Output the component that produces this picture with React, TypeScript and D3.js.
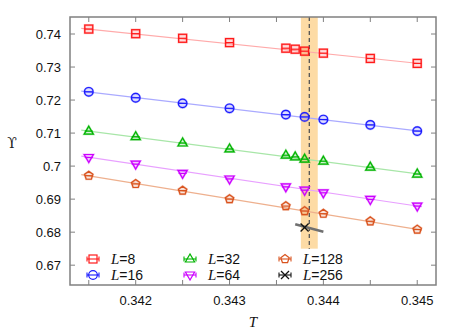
import React from "react";
import * as d3 from "d3";

const T_all = [0.3415, 0.342, 0.3425, 0.343, 0.3436, 0.3437, 0.3438, 0.344, 0.3445, 0.345];
const T_std = [0.3415, 0.342, 0.3425, 0.343, 0.3436, 0.3438, 0.344, 0.3445, 0.345];

const L8 = [0.7415, 0.7401, 0.7387, 0.7374, 0.7357, 0.7354, 0.7348, 0.7342, 0.7326, 0.7311];
const L16 = [0.7225, 0.7207, 0.719, 0.7175, 0.7156, 0.7149, 0.7141, 0.7125, 0.7106];
const L32 = [0.7106, 0.7089, 0.707, 0.7052, 0.7033, 0.7028, 0.7021, 0.7015, 0.6997, 0.6976];
const L64 = [0.7026, 0.7006, 0.6978, 0.6961, 0.6937, 0.6927, 0.6919, 0.6899, 0.6879];
const L128 = [0.6971, 0.6946, 0.6926, 0.69, 0.6879, 0.6864, 0.6856, 0.6833, 0.6808];
const T256 = [0.3438];
const L256 = [0.6814];

// fit lines: [T0, T1], [v0, v1]
const fitT = [0.34142, 0.34505];
const fit8 = [0.7417, 0.7310];
const fit16 = [0.7227, 0.7105];
const fit32 = [0.7109, 0.6975];
const fit64 = [0.7030, 0.6877];
const fit128 = [0.6974, 0.6806];
const fit256T = [0.3437, 0.3440];
const fit256 = [0.6824, 0.6801];

const xTicks = [0.3415, 0.342, 0.3425, 0.343, 0.3435, 0.344, 0.3445, 0.345];
const xLabels = [0.342, 0.343, 0.344, 0.345];
const yTicks = [0.67, 0.68, 0.69, 0.7, 0.71, 0.72, 0.73, 0.74];

const bandT = [0.34376, 0.34394];
const bandCenter = 0.34385;
const bandBottom = 0.675;

type S = { name: string; T: number[]; v: number[]; fit: number[]; fitT: number[]; color: string; line: string; shape: string };

const series: S[] = [
  { name: "8", T: T_all, v: L8, fit: fit8, fitT, color: "#ff1a1a", line: "#ffaaaa", shape: "square" },
  { name: "16", T: T_std, v: L16, fit: fit16, fitT, color: "#1a1aff", line: "#aaaaff", shape: "circle" },
  { name: "32", T: T_all, v: L32, fit: fit32, fitT, color: "#00b400", line: "#a8e6a8", shape: "tri" },
  { name: "64", T: T_std, v: L64, fit: fit64, fitT, color: "#cc00ff", line: "#e8a0ff", shape: "itri" },
  { name: "128", T: T_std, v: L128, fit: fit128, fitT, color: "#d9531e", line: "#eeb08e", shape: "pent" },
  { name: "256", T: T256, v: L256, fit: fit256, fitT: fit256T, color: "#111111", line: "#707070", shape: "cross" },
];

const W = 463, H = 334;
const m = { l: 70, r: 436, t: 17, b: 285 };
const x = d3.scaleLinear().domain([0.34130, 0.34520]).range([m.l, m.r]);
const y = d3.scaleLinear().domain([0.6640, 0.74515]).range([m.b, m.t]);

function Marker({ shape, cx, cy, color, legend }: { shape: string; cx: number; cy: number; color: string; legend?: boolean }) {
  const s = 4;
  const common = { fill: "none", stroke: color, strokeWidth: 1.2 };
  const pale = { fill: color, fillOpacity: 0.15, stroke: color, strokeOpacity: 0.3, strokeWidth: 2.2 };
  let el: React.ReactNode = null;
  let paleEl: React.ReactNode = null;
  if (shape === "square") {
    el = <rect x={cx - s} y={cy - s} width={2 * s} height={2 * s} {...common} />;
    paleEl = <rect x={cx - s} y={cy - s} width={2 * s} height={2 * s} {...pale} />;
  } else if (shape === "circle") {
    el = <circle cx={cx} cy={cy} r={s + 0.3} {...common} />;
    paleEl = <circle cx={cx} cy={cy} r={s + 0.3} {...pale} />;
  } else if (shape === "tri") {
    const p = `${cx},${cy - s - 1} ${cx - s - 0.6},${cy + s - 1} ${cx + s + 0.6},${cy + s - 1}`;
    el = <polygon points={p} {...common} />;
    paleEl = <polygon points={p} {...pale} />;
  } else if (shape === "itri") {
    const p = `${cx},${cy + s + 1} ${cx - s - 0.6},${cy - s + 1} ${cx + s + 0.6},${cy - s + 1}`;
    el = <polygon points={p} {...common} />;
    paleEl = <polygon points={p} {...pale} />;
  } else if (shape === "pent") {
    const pts = d3.range(5).map((i) => {
      const a = -Math.PI / 2 + (i * 2 * Math.PI) / 5;
      return `${cx + (s + 0.4) * Math.cos(a)},${cy + (s + 0.4) * Math.sin(a)}`;
    }).join(" ");
    el = <polygon points={pts} {...common} />;
    paleEl = <polygon points={pts} {...pale} />;
  } else if (shape === "cross") {
    el = (
      <g stroke={color} strokeWidth={1.3}>
        <line x1={cx - s} y1={cy - s} x2={cx + s} y2={cy + s} />
        <line x1={cx - s} y1={cy + s} x2={cx + s} y2={cy - s} />
      </g>
    );
  }
  return (
    <g>
      {!legend && paleEl}
      {el}
      {legend ? (
        <g stroke={color} strokeWidth={1.1}>
          <line x1={cx - 6} x2={cx + 6} y1={cy} y2={cy} />
          <line x1={cx - 6} x2={cx - 6} y1={cy - 2.5} y2={cy + 2.5} />
          <line x1={cx + 6} x2={cx + 6} y1={cy - 2.5} y2={cy + 2.5} />
        </g>
      ) : (
        shape !== "cross" && <line x1={cx - s} x2={cx + s} y1={cy} y2={cy} stroke={color} strokeWidth={1.2} />
      )}
    </g>
  );
}

export default function App() {
  const legendPos = [
    [93, 259], [93, 275], [190, 259], [190, 275], [285, 259], [285, 275],
  ];
  const axisColor = "#808080";
  const font = "'Liberation Sans', Arial, sans-serif";
  const serif = "'Liberation Serif', 'Times New Roman', serif";
  return (
    <svg width={W} height={H} style={{ position: "absolute", left: 0, top: 0 }}>
      <rect width={W} height={H} fill="#fff" />
      {/* band */}
      <rect x={x(bandT[0])} y={m.t} width={x(bandT[1]) - x(bandT[0])} height={y(bandBottom) - m.t} fill="#fdd595" fillOpacity={0.85} />
      <line x1={x(bandCenter)} x2={x(bandCenter)} y1={m.t} y2={y(bandBottom)} stroke="#555" strokeWidth={1.3} strokeDasharray="4,3" />
      {/* fit lines */}
      {series.map((s) => (
        <line key={"f" + s.name} x1={x(s.fitT[0])} x2={x(s.fitT[1])} y1={y(s.fit[0])} y2={y(s.fit[1])}
          stroke={s.line} strokeWidth={s.name === "256" ? 2.5 : 1.2} />
      ))}
      {/* points */}
      {series.map((s) => (
        <g key={"p" + s.name}>
          {s.v.map((v, i) => (
            <Marker key={i} shape={s.shape} cx={x(s.T[i])} cy={y(v)} color={s.color} />
          ))}
        </g>
      ))}
      {/* frame */}
      <rect x={m.l} y={m.t} width={m.r - m.l} height={m.b - m.t} fill="none" stroke={axisColor} strokeWidth={1.5} />
      {xTicks.map((t) => (
        <g key={"xt" + t} stroke={axisColor} strokeWidth={1}>
          <line x1={x(t)} x2={x(t)} y1={m.b} y2={m.b - 5} />
          <line x1={x(t)} x2={x(t)} y1={m.t} y2={m.t + 5} />
        </g>
      ))}
      {yTicks.map((t) => (
        <g key={"yt" + t} stroke={axisColor} strokeWidth={1}>
          <line x1={m.l} x2={m.l + 5} y1={y(t)} y2={y(t)} />
          <line x1={m.r} x2={m.r - 5} y1={y(t)} y2={y(t)} />
        </g>
      ))}
      {xLabels.map((t) => (
        <text key={"xl" + t} x={x(t)} y={305} textAnchor="middle" fontFamily={font} fontSize={13} fill="#111">
          {d3.format(".3f")(t)}
        </text>
      ))}
      {yTicks.map((t) => (
        <text key={"yl" + t} x={61} y={y(t) + 4.5} textAnchor="end" fontFamily={font} fontSize={13} fill="#111">
          {String(t)}
        </text>
      ))}
      {/* axis labels */}
      <text x={253} y={327} textAnchor="middle" fontFamily={serif} fontStyle="italic" fontSize={15} fill="#111">T</text>
      <text x={12} y={148} textAnchor="middle" fontFamily="'DejaVu Serif', serif" fontSize={14} fill="#222">ϒ</text>
      {/* legend */}
      {series.map((s, i) => {
        const [lx, ly] = legendPos[i];
        return (
          <g key={"lg" + s.name}>
            <Marker shape={s.shape} cx={lx} cy={ly} color={s.color} legend />
            <text x={lx + 18} y={ly + 5} fontFamily={font} fontSize={14} fill="#111">
              <tspan fontFamily={serif} fontStyle="italic" fontSize={15}>L</tspan>={s.name}
            </text>
          </g>
        );
      })}
    </svg>
  );
}
